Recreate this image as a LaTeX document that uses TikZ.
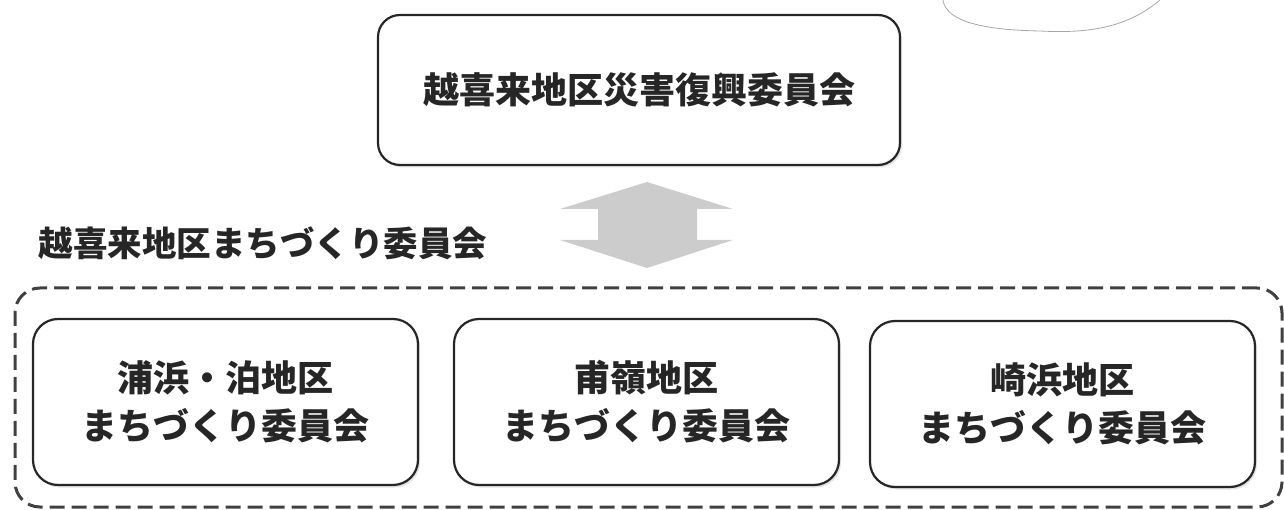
\documentclass[tikz,border=0pt]{standalone}
\usepackage{fontspec}
\newfontfamily\cjk{Noto Sans CJK JP}
\usetikzlibrary{shadows}

\begin{document}
\begin{tikzpicture}[
  x=1pt, y=-1pt,
  every node/.style={font=\cjk\bfseries\fontsize{36}{48}\selectfont, text=black!85},
  box/.style={draw=black!85, line width=2.2pt, rounded corners=25pt, fill=white, align=center,
    inner sep=0pt, minimum width=385, minimum height=166,
    drop shadow={shadow xshift=2pt, shadow yshift=-2.5pt, fill=gray!40}},
  group/.style={draw=black!75, line width=3pt, rounded corners=25pt, dash pattern=on 15pt off 7pt,
    inner sep=0pt, minimum width=1267, minimum height=219},
  arrowfill/.style={fill=gray!40}
]
\useasboundingbox (0,0) rectangle (1284,510);

% committee above
\node[box, minimum width=522, minimum height=150, rounded corners=22pt] (saigai) at (639,90) {越喜来地区災害復興委員会};

% name of the lower group
\node[anchor=west, font=\cjk\bfseries\fontsize{34.5}{40}\selectfont] (machi) at (35,243) {越喜来地区まちづくり委員会};

% two way arrow
\fill[arrowfill] (647,182) -- (733,209) -- (697,209) -- (697,240) -- (733,240) -- (647,268)
  -- (560,240) -- (598,240) -- (598,209) -- (560,209) -- cycle;

% dashed frame round the three district committees
\node[group] (all) at (648.5,397.5) {};
\node[box] (urahama) at (225.5,402) {浦浜・泊地区\\まちづくり委員会};
\node[box] (horei) at (646.5,402) {甫嶺地区\\まちづくり委員会};
\node[box] (sakihama) at (1062.5,404) {崎浜地区\\まちづくり委員会};

% cut off line at the top right
\draw[gray!70, line width=0.8pt] (943,0) .. controls (946,22) and (985,30) .. (1040,31)
  .. controls (1095,34) and (1130,25) .. (1160,0);
\end{tikzpicture}
\end{document}
